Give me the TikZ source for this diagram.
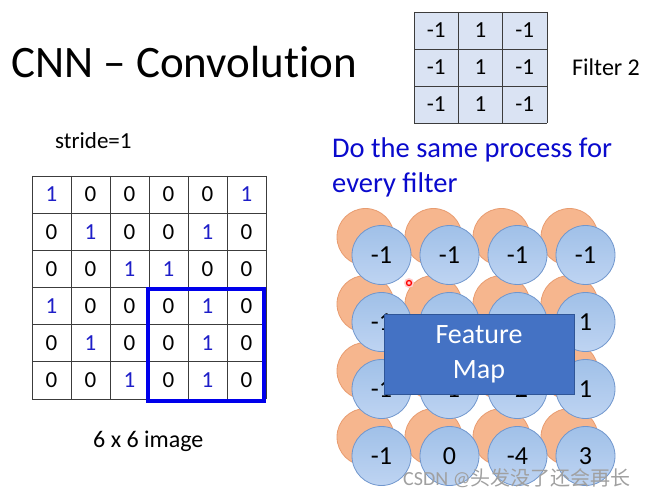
\documentclass[tikz,border=0pt]{standalone}
\usepackage{fontspec}
\setmainfont{Carlito}
\newfontfamily\cjkfont{Noto Sans CJK SC}
\usetikzlibrary{shadings}
\definecolor{gridline}{RGB}{60,60,60}
\definecolor{onecol}{RGB}{30,30,200}
\definecolor{boxblue}{RGB}{0,0,235}
\definecolor{filterfill}{RGB}{218,227,243}
\definecolor{textblue}{RGB}{10,10,205}
\definecolor{orangefill}{RGB}{246,182,142}
\definecolor{orangeline}{RGB}{232,156,112}
\definecolor{bluetop}{RGB}{160,192,232}
\definecolor{bluebot}{RGB}{190,212,242}
\definecolor{blueline}{RGB}{112,150,205}
\definecolor{fmfill}{RGB}{68,114,196}
\definecolor{fmline}{RGB}{47,85,151}
\definecolor{wmgray}{RGB}{160,160,160}
\tikzset{
  gridnum/.style={font=\fontsize{23}{26}\selectfont, inner sep=0pt},
  filternum/.style={font=\fontsize{23}{26}\selectfont, inner sep=0pt},
  orangecirc/.style={circle, draw=orangeline, fill=orangefill, minimum size=57pt, inner sep=0pt, line width=0.8pt},
  bluecirc/.style={circle, draw=blueline, top color=bluetop, bottom color=bluebot, minimum size=59pt, inner sep=0pt, line width=0.8pt, font=\fontsize{26}{30}\selectfont},
  labeltext/.style={inner sep=0pt, anchor=base west}
}
\begin{document}
\begin{tikzpicture}[x=1pt,y=-1pt]
\useasboundingbox[fill=white] (0,0) rectangle (650,497);

% Title
\node[labeltext, font=\fontsize{45}{50}\selectfont\addfontfeatures{Ligatures=NoCommon}] (title) at (11,78) {CNN -- Convolution};

% Filter
\fill[filterfill] (414,12) rectangle (547,123);
\foreach \x in {414,458.3,502.7,547} \draw[gridline, line width=0.9pt] (\x,12) -- (\x,123);
\foreach \y in {12,49,86,123} \draw[gridline, line width=0.9pt] (414,\y) -- (547,\y);
\foreach \r/\cy in {1/30.5,2/67.5,3/104.5}{
  \node[filternum] (f\r a) at (436.2,\cy) {-1};
  \node[filternum] (f\r b) at (480.5,\cy) {1};
  \node[filternum] (f\r c) at (524.8,\cy) {-1};
}
\node[labeltext, font=\fontsize{24}{28}\selectfont] (filtername) at (572,76) {Filter 2};

% stride
\node[labeltext, font=\fontsize{23}{27}\selectfont] (stride) at (55,149) {stride=1};

% Image grid
\foreach \x in {32,71,110,149,188,227,266} \draw[gridline, line width=0.9pt] (\x,176) -- (\x,399);
\foreach \y in {176,213.2,250.3,287.5,324.7,361.8,399} \draw[gridline, line width=0.9pt] (32,\y) -- (266,\y);
\foreach \row [count=\r] in {{1,0,0,0,0,1},{0,1,0,0,1,0},{0,0,1,1,0,0},{1,0,0,0,1,0},{0,1,0,0,1,0},{0,0,1,0,1,0}}{
  \foreach \v [count=\c] in \row {
    \pgfmathsetmacro{\cx}{32+39*(\c-0.5)}
    \pgfmathsetmacro{\cy}{176+37.17*(\r-0.5)}
    \ifnum\v=1
      \node[gridnum, text=onecol] (g\r\c) at (\cx,\cy) {1};
    \else
      \node[gridnum] (g\r\c) at (\cx,\cy) {0};
    \fi
  }
}
\draw[boxblue, line width=3.6pt] (148,289) rectangle (264,401);
\node[labeltext, font=\fontsize{24}{28}\selectfont] (imglabel) at (93,447) {6 x 6 image};

% Do the same process
\node[labeltext, font=\fontsize{28.5}{32}\selectfont, text=textblue] (proc1) at (332,158) {Do the same process for};
\node[labeltext, font=\fontsize{28.5}{32}\selectfont, text=textblue] (proc2) at (332,193) {every filter};

% Orange circles
\foreach \cx [count=\c] in {365.5,433.5,501.5,569.5}{
  \foreach \cy [count=\r] in {237,304,371,437}{
    \node[orangecirc] (o\r\c) at (\cx,\cy) {};
  }
}
% Blue circles
\foreach \row [count=\r] in {{-1,-1,-1,-1},{-1,,,1},{-1,-1,-2,1},{-1,0,-4,3}}{
  \foreach \v [count=\c] in \row {
    \pgfmathsetmacro{\cx}{381.5+68*(\c-1)}
    \pgfmathsetmacro{\cy}{255+67*(\r-1)}
    \node[bluecirc] (b\r\c) at (\cx,\cy) {\v};
  }
}

% Feature map box
\node[draw=fmline, fill=fmfill, line width=0.8pt, minimum width=190pt, minimum height=80pt, inner sep=0pt,
      text=white, align=center, font=\fontsize{28}{35}\selectfont] (fmap) at (479,354) {Feature\\Map};
\path[use as bounding box] (0,0) rectangle (650,497);

% cursor mark
\fill[red!20] (409,283) circle (5);
\draw[red, line width=1.3pt] (409,283) circle (2.5);

% watermark
\node[anchor=west, inner sep=0pt, text=wmgray, font=\fontsize{20}{22}\selectfont] (wm) at (403,478) {CSDN @\cjkfont 头发没了还会再长};
\end{tikzpicture}
\end{document}
